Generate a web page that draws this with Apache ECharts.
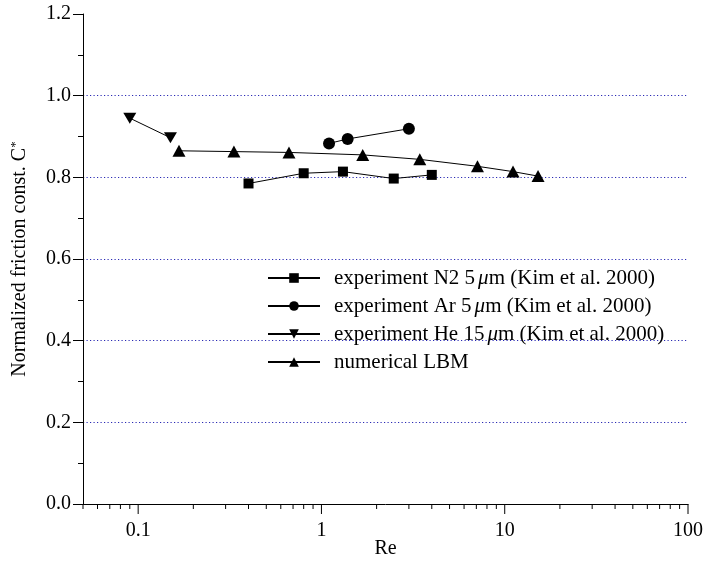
<!DOCTYPE html>
<html>
<head>
<meta charset="utf-8">
<script src="https://cdn.jsdelivr.net/npm/echarts@6/dist/echarts.min.js"></script>
<style>html,body{margin:0;padding:0;background:#fff}#c{width:705px;height:561px}</style>
</head>
<body>
<div id="c"></div>
<script>
// ---- data ----
const n2Re = [0.40, 0.80, 1.31, 2.48, 4.0];
const n2C  = [0.785, 0.810, 0.814, 0.797, 0.806];
const arRe = [1.10, 1.39, 3.0];
const arC  = [0.883, 0.894, 0.919];
const heRe = [0.09, 0.15];
const heC  = [0.945, 0.897];
const lbmRe = [0.167, 0.333, 0.665, 1.68, 3.44, 7.1, 11.1, 15.2];
const lbmC  = [0.865, 0.863, 0.861, 0.855, 0.844, 0.827, 0.814, 0.803];
const xMajorTicks = [0.1, 1, 10, 100];
const xTickLabels = ['0.1', '1', '10', '100'];
const xMinorTicks = [0.05,0.06,0.07,0.08,0.09,0.2,0.3,0.4,0.5,0.6,0.7,0.8,0.9,2,3,4,5,6,7,8,9,20,30,40,50,60,70,80,90];
const seriesNames = [
  'experiment N2 5{i|\u03bc}m (Kim et al. 2000)',
  'experiment Ar 5{i|\u03bc}m (Kim et al. 2000)',
  'experiment He 15{i|\u03bc}m (Kim et al. 2000)',
  'numerical LBM'
];

const FONT = "'Liberation Serif','Times New Roman',serif";
const FS = 20;
const LFS = 21;
const zip = (a, b) => a.map((v, i) => [v, b[i]]);
const downTri = 'path://M0,0 L12,0 L6,10.4 Z';

function tickSeries(vals, len) {
  return {
    type: 'custom', silent: true, clip: false, z: 1,
    data: vals.map(v => [v, 0]),
    renderItem: function (params, api) {
      const p = api.coord([api.value(0), 0]);
      return { type: 'line', shape: { x1: p[0], y1: p[1], x2: p[0], y2: p[1] + len },
               style: { stroke: '#000', lineWidth: 1 } };
    }
  };
}

const lineStyle = { color: '#000', width: 1 };
function dataSeries(name, re, c, symbol, size) {
  return {
    name: name, type: 'line', data: zip(re, c), symbol: symbol, symbolSize: size,
    lineStyle: lineStyle, itemStyle: { color: '#000' }, showAllSymbol: true, z: 3
  };
}

const chart = echarts.init(document.getElementById('c'));
chart.setOption({
  animation: false,
  backgroundColor: '#fff',
  grid: { left: 83, right: 17, top: 14, bottom: 57, containLabel: false, outerBoundsMode: 'none' },
  legend: {
    orient: 'vertical', left: 262, top: 262, itemWidth: 52, itemHeight: 12, itemGap: 6,
    data: seriesNames,
    textStyle: { fontFamily: FONT, fontSize: LFS, color: '#000', lineHeight: 22, padding: [0, 0, 0, 9],
      rich: { i: { fontFamily: FONT, fontSize: LFS, fontStyle: 'italic', color: '#000', padding: [0, 0, 0, 3] } } }
  },
  xAxis: {
    type: 'log', logBase: 10, min: 0.05, max: 100,
    name: 'Re', nameLocation: 'middle', nameGap: 35, nameMoveOverlap: false,
    nameTextStyle: { fontFamily: FONT, fontSize: FS, color: '#000' },
    axisLine: { lineStyle: { color: '#000', width: 1 } },
    axisTick: { show: false },
    splitLine: { show: false },
    axisLabel: {
      fontFamily: FONT, fontSize: FS, color: '#000', margin: 17,
      formatter: function (v) {
        for (let i = 0; i < xMajorTicks.length; i++) {
          if (Math.abs(Math.log10(v) - Math.log10(xMajorTicks[i])) < 1e-6) return xTickLabels[i];
        }
        return '';
      }
    }
  },
  yAxis: {
    type: 'value', min: 0, max: 1.2, interval: 0.2,
    name: 'Normalized friction const. C{sup|*}', nameLocation: 'middle', nameGap: 52, nameMoveOverlap: false,
    nameTextStyle: { fontFamily: FONT, fontSize: FS, color: '#000',
      rich: { sup: { fontFamily: FONT, fontSize: 13, color: '#000', padding: [0, 0, 9, 0] } } },
    axisLine: { show: true, lineStyle: { color: '#000', width: 1 } },
    axisTick: { show: true, inside: false, length: 10, lineStyle: { color: '#000' } },
    minorTick: { show: true, splitNumber: 2, length: 5, lineStyle: { color: '#000' } },
    axisLabel: { fontFamily: FONT, fontSize: FS, color: '#000', margin: 12,
      formatter: v => v.toFixed(1) },
    splitLine: { show: true, showMinLine: false, showMaxLine: false,
      lineStyle: { color: '#2a2ab4', type: [1.2, 2.3], width: 1 } }
  },
  series: [
    dataSeries(seriesNames[0], n2Re, n2C, 'rect', 10),
    dataSeries(seriesNames[1], arRe, arC, 'circle', 12),
    dataSeries(seriesNames[2], heRe, heC, downTri, [13, 11]),
    dataSeries(seriesNames[3], lbmRe, lbmC, 'triangle', [13, 12]),
    tickSeries(xMajorTicks, 10),
    tickSeries(xMinorTicks, 5)
  ]
});
</script>
</body>
</html>
